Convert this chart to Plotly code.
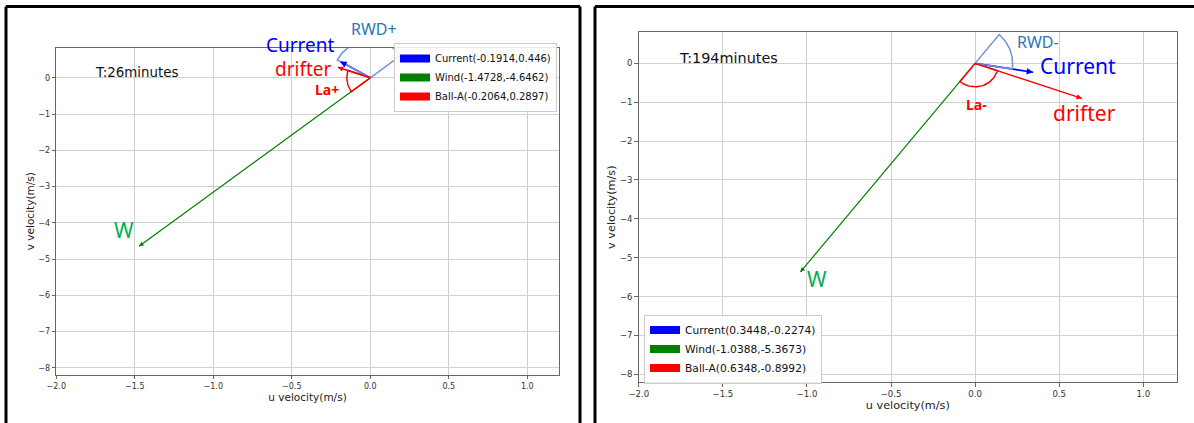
import math
import plotly.graph_objects as go

W, H = 1194, 423

# ---------------- data ----------------
panel_titles = ["T:26minutes", "T:194minutes"]
current_u = [-0.1914, 0.3448]
current_v = [0.446, -0.2274]
wind_u = [-1.4728, -1.0388]
wind_v = [-4.6462, -5.3673]
ball_u = [-0.2064, 0.6348]
ball_v = [0.2897, -0.8992]
series_names = ["Current", "Wind", "Ball-A"]
rwd_labels = ["RWD+", "RWD-"]
la_labels = ["La+", "La-"]
x_ticks = [-2.0, -1.5, -1.0, -0.5, 0.0, 0.5, 1.0]
y_ticks = [-8, -7, -6, -5, -4, -3, -2, -1, 0]
x_range = [-2.0, 1.2]
y_ranges = [[-8.19, 0.83], [-8.2, 0.8]]

# ---------------- layout geometry (pixels) ----------------
axes_px = [  # x0, x1, ytop, ybottom
    (56.3, 558.7, 47.7, 374.7),
    (638.8, 1176.9, 32.3, 382.0),
]
scale = [1.0, 1.07]  # right panel is rendered a bit larger

COL_CUR, COL_WIND, COL_BALL = "blue", "green", "red"
COL_RWD = "#6f93d8"
TXT_RWD = "#2e75b6"
TXT_W = "#00b050"

fig = go.Figure()


def px(i):
    x0, x1, yt, yb = axes_px[i]
    sx = (x1 - x0) / (x_range[1] - x_range[0])
    sy = (yb - yt) / (y_ranges[i][1] - y_ranges[i][0])
    return sx, sy


def axes_of(i):
    sfx = "" if i == 0 else "2"
    return "x" + sfx, "y" + sfx


def sector(i, ang1, ang2, r, color, width):
    sx, sy = px(i)
    xa, ya = axes_of(i)
    d = (ang2 - ang1 + math.pi) % (2 * math.pi) - math.pi
    n = 40
    xs, ys = [0.0], [0.0]
    for k in range(n + 1):
        a = ang1 + d * k / n
        xs.append(r * math.cos(a) / sx)
        ys.append(r * math.sin(a) / sy)
    xs.append(0.0)
    ys.append(0.0)
    fig.add_trace(go.Scatter(x=xs, y=ys, mode="lines", line=dict(color=color, width=width),
                             showlegend=False, hoverinfo="skip", xaxis=xa, yaxis=ya))


def shaft(i, u, v, color, width):
    xa, ya = axes_of(i)
    fig.add_trace(go.Scatter(x=[0, u], y=[0, v], mode="lines", line=dict(color=color, width=width),
                             showlegend=False, hoverinfo="skip", xaxis=xa, yaxis=ya))


def head(i, u, v, color, width):
    sx, sy = px(i)
    xa, ya = axes_of(i)
    a = math.atan2(v * sy, u * sx)
    L = 6
    fig.add_annotation(x=u, y=v, xref=xa, yref=ya, ax=-L * math.cos(a), ay=L * math.sin(a),
                       text="", showarrow=True, arrowhead=2, arrowsize=0.75,
                       arrowwidth=width, arrowcolor=color, standoff=0, startstandoff=0)


for i in range(2):
    xa, ya = axes_of(i)
    sx, sy = px(i)
    a_cur = math.atan2(current_v[i] * sy, current_u[i] * sx)
    a_wind = math.atan2(wind_v[i] * sy, wind_u[i] * sx)
    a_rwind = math.atan2(-wind_v[i] * sy, -wind_u[i] * sx)
    a_ball = math.atan2(ball_v[i] * sy, ball_u[i] * sx)

    vecs = [(wind_u[i], wind_v[i], COL_WIND, 1.2),
            (ball_u[i], ball_v[i], COL_BALL, 1.4),
            (current_u[i], current_v[i], COL_CUR, 1.7)]
    for u, v, col, w in vecs:
        shaft(i, u, v, col, w)
    # angle sectors (RWD: reversed wind -> current ; La: drifter -> wind)
    sector(i, a_rwind, a_cur, 37.5, COL_RWD, 1.5)
    sector(i, a_ball, a_wind, 23.5, COL_BALL, 1.5)
    for u, v, col, w in vecs:
        head(i, u, v, col, w)

    # legend entries
    lg = "legend" if i == 0 else "legend2"
    for name, col, u, v in zip(series_names, [COL_CUR, COL_WIND, COL_BALL],
                               [current_u[i], wind_u[i], ball_u[i]],
                               [current_v[i], wind_v[i], ball_v[i]]):
        fig.add_trace(go.Scatter(x=[None], y=[None], mode="lines",
                                 line=dict(color=col, width=8),
                                 name=f"{name}({u},{v})", xaxis=xa, yaxis=ya, legend=lg))

# ---------------- axes ----------------
for i in range(2):
    x0, x1, yt, yb = axes_px[i]
    s = scale[i]
    common = dict(showgrid=True, gridcolor="#d0d0d0", gridwidth=1, showline=True,
                  linecolor="#666", linewidth=1.2, mirror=True, ticks="outside",
                  ticklen=3.5, tickcolor="#666", zeroline=False, automargin=False,
                  tickfont=dict(family="DejaVu Sans", size=8 * s, color="#333"))
    xkey = "xaxis" if i == 0 else "xaxis2"
    ykey = "yaxis" if i == 0 else "yaxis2"
    fig.layout[xkey] = dict(common, domain=[x0 / W, x1 / W], range=x_range,
                            tickvals=x_ticks, tickformat=".1f",
                            anchor="y" if i == 0 else "y2",
                            title=dict(text="u velocity(m/s)", standoff=1,
                                       font=dict(family="DejaVu Sans", size=10.5 * s, color="#222")))
    fig.layout[ykey] = dict(common, domain=[1 - yb / H, 1 - yt / H], range=y_ranges[i],
                            tickvals=y_ticks, anchor="x" if i == 0 else "x2",
                            title=dict(text="v velocity(m/s)", standoff=1,
                                       font=dict(family="DejaVu Sans", size=10.5 * s, color="#222")))

# ---------------- text labels ----------------
labels = [
    # text, px x, px y, size, color, family, bold
    (panel_titles[0], 136, 72.7, 13.4, "#111", "DejaVu Sans", False),
    (panel_titles[1], 728, 58.3, 14.4, "#111", "DejaVu Sans", False),
    (rwd_labels[0], 374, 28.5, 16, TXT_RWD, "Noto Sans", False),
    (rwd_labels[1], 1038, 42.5, 16, TXT_RWD, "Noto Sans", False),
    ("Current", 300.5, 45.5, 19, "blue", "Noto Sans", False),
    ("Current", 1078, 66, 21, "blue", "Noto Sans", False),
    ("drifter", 303, 69.5, 19, "red", "Noto Sans", False),
    ("drifter", 1084, 112.5, 21, "red", "Noto Sans", False),
    (la_labels[0], 327.5, 90, 14, "red", "Noto Sans", True),
    (la_labels[1], 976.7, 104.5, 14, "red", "Noto Sans", True),
    ("W", 124.5, 230.5, 21, TXT_W, "Noto Sans", False),
    ("W", 817, 279, 21, TXT_W, "Noto Sans", False),
]
for t, x, y, sz, col, fam, bold in labels:
    fig.add_annotation(x=x / W, y=1 - y / H, xref="paper", yref="paper", text=f"<b>{t}</b>" if bold else t,
                       showarrow=False, xanchor="center", yanchor="middle", borderpad=0,
                       font=dict(family=fam, size=sz, color=col))

# ---------------- panel frames ----------------
frames = [
    ((6, 6.5), (580, 6.5)), ((6, 6.5), (6, 430)), ((580, 6.5), (580, 430)),
    ((595, 6.5), (1200, 6.5)), ((595, 6.5), (595, 430)),
]
for (ax0, ay0), (ax1, ay1) in frames:
    fig.add_shape(type="line", xref="paper", yref="paper", x0=ax0 / W, y0=1 - ay0 / H,
                  x1=ax1 / W, y1=1 - ay1 / H, line=dict(color="black", width=3))

fig.update_layout(
    width=W, height=H, autosize=False,
    margin=dict(l=0, r=0, t=0, b=0, autoexpand=False),
    paper_bgcolor="white", plot_bgcolor="white",
    legend=dict(x=394 / W, y=1 - 77.5 / H, xanchor="left", yanchor="middle",
                bgcolor="rgba(255,255,255,0.85)", bordercolor="#cccccc", borderwidth=1,
                font=dict(family="DejaVu Sans", size=10, color="#111"), itemwidth=30),
    legend2=dict(x=644 / W, y=1 - 349 / H, xanchor="left", yanchor="middle",
                 bgcolor="rgba(255,255,255,0.85)", bordercolor="#cccccc", borderwidth=1,
                 font=dict(family="DejaVu Sans", size=10.7, color="#111"), itemwidth=30),
    showlegend=True,
)

fig.write_html("out.html")
